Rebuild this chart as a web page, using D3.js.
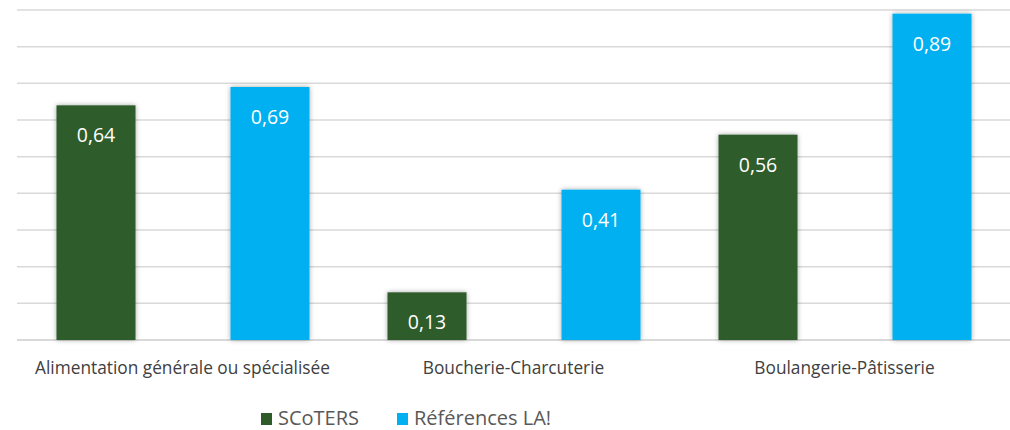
<!DOCTYPE html>
<html lang="fr">
<head>
    <meta charset="utf-8">
    <title>Commerces alimentaires</title>
    <script type="text/javascript" src="https://d3js.org/d3.v7.min.js"></script>
    <style>
        body { margin: 0; background: #fff; }
        text { font-family: "Open Sans", "Noto Sans", sans-serif; }
    </style>
</head>
<body>
    <div id="viz"></div>

    <script type="text/javascript">
        const categories = ["Alimentation générale ou spécialisée", "Boucherie-Charcuterie", "Boulangerie-Pâtisserie"];
        const seriesNames = ["SCoTERS", "Références LA!"];
        const scoters = [0.64, 0.13, 0.56];
        const references = [0.69, 0.41, 0.89];
        const gridTicks = [0, 0.1, 0.2, 0.3, 0.4, 0.5, 0.6, 0.7, 0.8, 0.9];
        const colors = ["#2e5b29", "#00b0f0"];

        const width = 1010;
        const height = 430;
        const plot = {left: 17, right: 1010, top: 10, bottom: 340};

        const svg = d3.select("#viz")
            .append("svg")
            .attr("width", width)
            .attr("height", height);

        // soft shadow like the office chart
        const filter = svg.append("defs").append("filter")
            .attr("id", "shadow")
            .attr("x", "-20%").attr("y", "-10%")
            .attr("width", "140%").attr("height", "120%");
        filter.append("feDropShadow")
            .attr("dx", 0).attr("dy", 0)
            .attr("stdDeviation", 2.5)
            .attr("flood-color", "#000")
            .attr("flood-opacity", 0.35);

        const yScale = d3.scaleLinear()
            .domain([0, 0.9])
            .range([plot.bottom, plot.top]);

        const x0 = d3.scaleBand()
            .domain(categories)
            .range([plot.left, plot.right]);

        const x1 = d3.scaleBand()
            .domain(seriesNames)
            .range([39.5, 292.5])
            .paddingInner(95 / 174);

        // gridlines
        svg.append("g")
            .attr("class", "grid")
            .selectAll("line")
            .data(gridTicks)
            .enter()
            .append("line")
                .attr("x1", plot.left)
                .attr("x2", plot.right)
                .attr("y1", d => yScale(d))
                .attr("y2", d => yScale(d))
                .attr("stroke", "#d9d9d9")
                .attr("stroke-width", d => d === 0 ? 2 : 1.5);

        const data = categories.map((c, i) => ({
            category: c,
            values: [
                {series: seriesNames[0], value: scoters[i], color: colors[0]},
                {series: seriesNames[1], value: references[i], color: colors[1]}
            ]
        }));

        const groups = svg.append("g")
            .selectAll("g")
            .data(data)
            .enter()
            .append("g")
                .attr("transform", d => `translate(${x0(d.category)},0)`);

        groups.selectAll("rect")
            .data(d => d.values)
            .enter()
            .append("rect")
                .attr("x", d => x1(d.series))
                .attr("y", d => yScale(d.value))
                .attr("width", x1.bandwidth())
                .attr("height", d => yScale(0) - yScale(d.value))
                .attr("fill", d => d.color)
                .attr("filter", "url(#shadow)");

        groups.selectAll("text.value")
            .data(d => d.values)
            .enter()
            .append("text")
                .attr("class", "value")
                .attr("x", d => x1(d.series) + x1.bandwidth() / 2)
                .attr("y", d => yScale(d.value) + 37)
                .attr("text-anchor", "middle")
                .attr("fill", "#fff")
                .attr("font-size", "19.5px")
                .text(d => d3.format(".2f")(d.value).replace(".", ","));

        // category labels
        svg.append("g")
            .selectAll("text")
            .data(categories)
            .enter()
            .append("text")
                .attr("x", d => x0(d) + x0.bandwidth() / 2)
                .attr("y", 374)
                .attr("text-anchor", "middle")
                .attr("fill", "#404040")
                .attr("font-size", "17.3px")
                .text(d => d);

        // legend
        const legendX = [261, 397];
        const legend = svg.append("g")
            .selectAll("g")
            .data(seriesNames)
            .enter()
            .append("g")
                .attr("transform", (d, i) => `translate(${legendX[i]},0)`);
        legend.append("rect")
            .attr("x", 0)
            .attr("y", 413)
            .attr("width", 11)
            .attr("height", 12)
            .attr("fill", (d, i) => colors[i]);
        legend.append("text")
            .attr("x", 17)
            .attr("y", 425)
            .attr("fill", "#595959")
            .attr("font-size", "20px")
            .text(d => d);
    </script>
</body>
</html>
